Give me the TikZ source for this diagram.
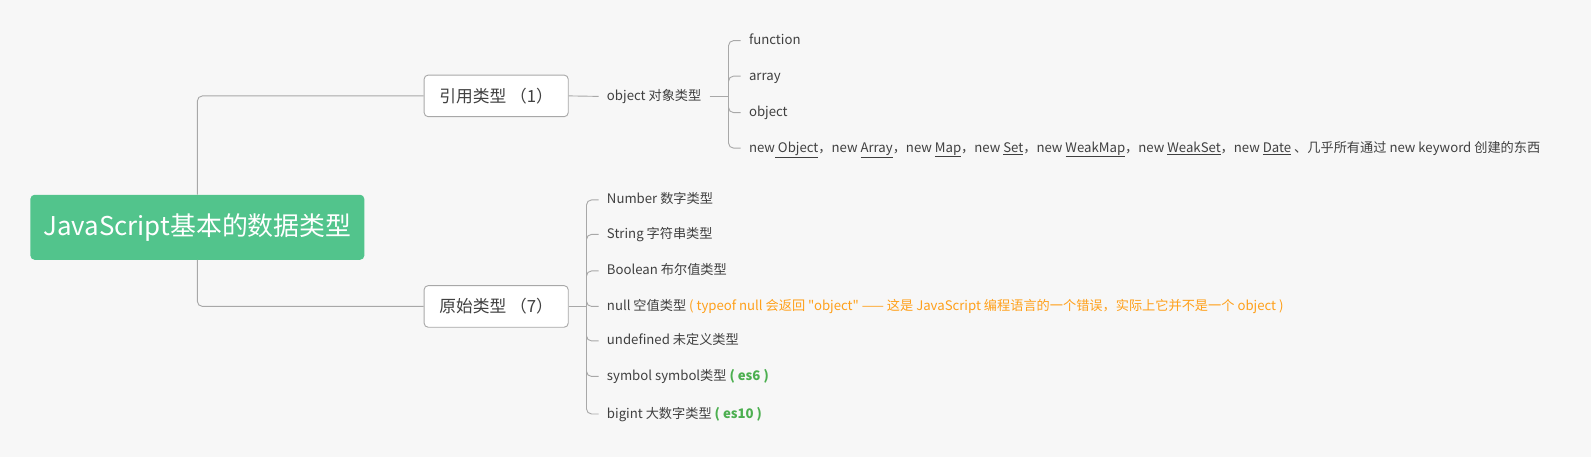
\documentclass[tikz,border=0pt]{standalone}
\usepackage{fontspec}
\setmainfont{Noto Sans CJK SC}[Ligatures=TeXOff]
\usetikzlibrary{positioning}
\definecolor{paper}{HTML}{F7F7F7}
\definecolor{rootgreen}{HTML}{52C48C}
\definecolor{linegray}{HTML}{A8A8A8}
\definecolor{textgray}{HTML}{404040}
\definecolor{noteorange}{HTML}{FFA01A}
\definecolor{notegreen}{HTML}{4CAF50}
\newcommand\warnnote[1]{\textcolor{noteorange}{#1}}
\newcommand\esnote[1]{\textcolor{notegreen}{\bfseries #1}}
\tikzset{
    root/.style={
        rectangle, rounded corners=4pt, fill=rootgreen, text=white,
        minimum width=329pt, minimum height=64pt,
        font=\fontsize{25.5}{30}\selectfont
    },
    branch/.style={
        rectangle, rounded corners=4pt, draw=linegray, line width=0.9pt,
        fill=white, text=textgray,
        minimum width=142pt, minimum height=41pt,
        font=\fontsize{16.5}{20}\selectfont
    },
    leaf/.style={
        anchor=west, inner xsep=8pt, inner ysep=2pt, text=textgray,
        text height=10pt, text depth=2pt,
        font=\fontsize{13}{16}\selectfont
    },
    link/.style={draw=linegray, line width=0.9pt, rounded corners=5pt}
}

\begin{document}
\begin{tikzpicture}[x=1pt, y=-1pt]

\useasboundingbox[fill=paper] (0,0) rectangle (1568,450);

% root and the two main branches
\node[root] (root) at (194.5,224) {JavaScript基本的数据类型};
\node[branch] (reftype) at (489,94.5) {引用类型 （1）};
\node[branch] (primtype) at (489,302) {原始类型 （7）};

\draw[link] (root.north) |- (reftype.west);
\draw[link] (root.south) |- (primtype.west);

% reference types
\node[leaf] (objtype) at (590,95) {object 对象类型};
\coordinate (objfork) at (718,95);

\node[leaf] (fn) at (730,40) {function};
\node[leaf] (arr) at (730,75) {array};
\node[leaf] (obj) at (730,111) {object};
\node[leaf] (newkw) at (730,146) {new\underline{ Object}，new \underline{Array}，new \underline{Map}，new \underline{Set}，new \underline{WeakMap}，new \underline{WeakSet}，new \underline{Date} 、几乎所有通过 new keyword 创建的东西};

\draw[link] (reftype.east) -- (objtype.west);
\draw[link] (objtype.east) -- (objfork);
\foreach \n in {fn, arr, obj, newkw}
    \draw[link] (objfork) |- (\n.west);

% primitive types
\coordinate (primfork) at (578,302);

\node[leaf] (num) at (590,197) {Number 数字类型};
\node[leaf] (str) at (590,231) {String 字符串类型};
\node[leaf] (bool) at (590,267) {Boolean 布尔值类型};
\node[leaf] (nul) at (590,302) {null 空值类型 \warnnote{( typeof null 会返回 "object" —— 这是 JavaScript 编程语言的一个错误，实际上它并不是一个 object )}};
\node[leaf] (undef) at (590,336) {undefined 未定义类型};
\node[leaf] (sym) at (590,371) {symbol symbol类型 \esnote{( es6 )}};
\node[leaf] (big) at (590,408) {bigint 大数字类型 \esnote{( es10 )}};

\draw[link] (primtype.east) -- (primfork);
\foreach \n in {num, str, bool, nul, undef, sym, big}
    \draw[link] (primfork) |- (\n.west);

\end{tikzpicture}
\end{document}
